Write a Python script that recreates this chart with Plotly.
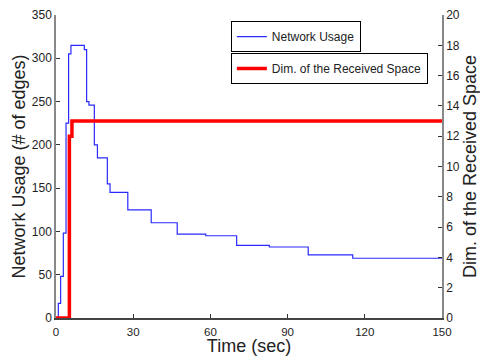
import plotly.graph_objects as go

# Network usage (left axis, # of edges)
usage_time = [0, 0.9, 1.8, 2.85, 3.9, 4.9, 5.8, 11.0, 11.9, 12.8, 14.9, 16.1, 19.95, 21.0,
              27.9, 37.0, 47.1, 58.2, 70.2, 82.9, 98.0, 115.3, 150]
usage_edges = [0, 17, 48, 98, 225, 305, 315, 310, 250, 246, 200, 185, 155, 145,
               125, 110, 97, 95, 84, 82, 73, 69, 69]

# Dimension of received space (right axis)
dim_time = [0, 5.2, 6.2, 150]
dim_value = [0, 12, 13, 13]

x_ticks = [0, 30, 60, 90, 120, 150]
y_left_ticks = [0, 50, 100, 150, 200, 250, 300, 350]
y_right_ticks = [0, 2, 4, 6, 8, 10, 12, 14, 16, 18, 20]

FONT = "Liberation Sans, Arial, Helvetica, sans-serif"

fig = go.Figure()
fig.add_trace(go.Scatter(
    x=usage_time, y=usage_edges, mode="lines", line_shape="hv",
    line=dict(color="#2a2aff", width=1.2), name="Network Usage",
    legend="legend", showlegend=True))
fig.add_trace(go.Scatter(
    x=dim_time, y=dim_value, mode="lines", line_shape="hv",
    line=dict(color="#ff0000", width=3.5), name="Dim. of the Received Space",
    yaxis="y2", legend="legend2", showlegend=True))

fig.update_layout(
    width=480, height=356,
    showlegend=True,
    margin=dict(l=56, r=38, t=15, b=38),
    paper_bgcolor="white", plot_bgcolor="white",
    font=dict(family=FONT, color="#222", size=12),
    xaxis=dict(range=[0, 150], tickvals=x_ticks, ticks="inside", ticklen=4,
               tickcolor="#333", showline=True, linecolor="#444", linewidth=1.5,
               showgrid=False, zeroline=False, automargin=False,
               ticklabelstandoff=2,
               title=dict(text="Time (sec)", font=dict(size=18, family=FONT), standoff=0),
               tickfont=dict(size=11.5)),
    yaxis=dict(range=[0, 350], tickvals=y_left_ticks, ticks="inside", ticklen=4,
               tickcolor="#333", showline=True, linecolor="#888", linewidth=1.5,
               showgrid=False, zeroline=False, automargin=False,
               title=dict(text="Network Usage (# of edges)", font=dict(size=18, family=FONT), standoff=2),
               tickfont=dict(size=12)),
    yaxis2=dict(range=[0, 20], tickvals=y_right_ticks, ticks="inside", ticklen=4,
                tickcolor="#333", showline=True, linecolor="#888", linewidth=1.5,
                overlaying="y", side="right", showgrid=False, zeroline=False,
                automargin=False,
                title=dict(text="Dim. of the Received Space", font=dict(size=18, family=FONT), standoff=0),
                tickfont=dict(size=12)),
    legend=dict(x=0.453, y=0.98, xanchor="left", yanchor="top",
                bordercolor="black", borderwidth=1, bgcolor="white",
                font=dict(size=12, family=FONT)),
    legend2=dict(x=0.453, y=0.875, xanchor="left", yanchor="top",
                 bordercolor="black", borderwidth=1, bgcolor="white",
                 font=dict(size=12, family=FONT)),
)

fig.write_html("out.html", config={"displayModeBar": False},
               post_script="document.body.style.margin='0';")
